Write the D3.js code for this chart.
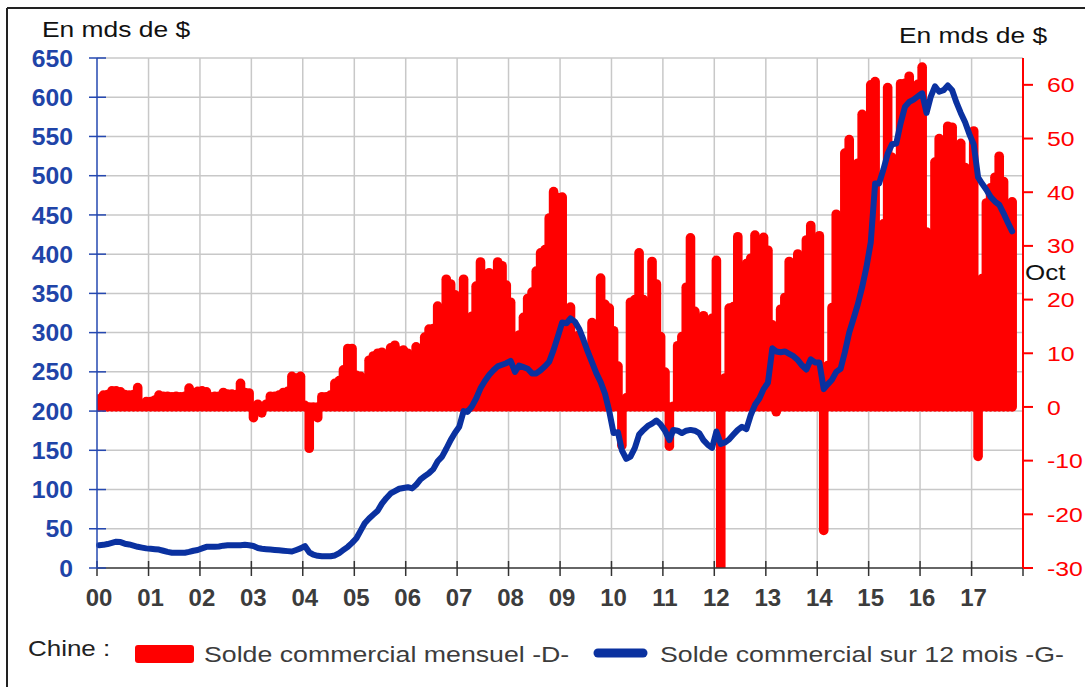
<!DOCTYPE html>
<html>
<head>
<meta charset="utf-8">
<script src="https://cdn.jsdelivr.net/npm/d3@7"></script>
<style>
    body { margin: 0; background: #fff; }
    svg { display: block; font-family: "Liberation Sans", Arial, sans-serif; }
</style>
</head>
<body>
<div id="chart"></div>
<script>

// Chine : solde commercial, en mds de $ (janv. 2000 -> oct. 2017)
const yearLabels = ["00", "01", "02", "03", "04", "05", "06", "07", "08", "09",
    "10", "11", "12", "13", "14", "15", "16", "17"];
const leftTicks = [0, 50, 100, 150, 200, 250, 300, 350, 400, 450, 500, 550, 600, 650];
const rightTicks = [-30, -20, -10, 0, 10, 20, 30, 40, 50, 60];

// solde mensuel (axe de droite)
const soldeMensuel = [
    1.5, 2.2, 2.3, 3.0, 3.0, 2.8, 2.3, 2.2, 2.3, 3.6, 0.5, 1.0,
    1.0, 1.3, 2.2, 2.0, 2.0, 1.9, 2.0, 1.9, 2.0, 3.5, 2.7, 2.9,
    3.0, 2.8, 1.9, 2.0, 2.0, 2.7, 2.4, 2.4, 2.3, 4.4, 2.7, 2.6,
    -2.0, 0.5, -1.1, 0.5, 2.0, 2.0, 2.2, 2.7, 2.9, 5.7, 5.4, 5.7,
    0.3, -7.7, -0.3, -2.0, 1.9, 1.9, 2.2, 4.4, 4.9, 6.9, 10.9, 10.9,
    5.9, 5.7, 5.0, 8.7, 9.5, 10.0, 10.2, 9.4, 11.0, 11.5, 10.4, 10.6,
    10.0, 2.5, 11.2, 10.5, 13.0, 14.5, 14.6, 18.8, 15.3, 23.8, 22.9, 20.9,
    15.9, 23.8, 6.9, 16.9, 22.5, 27.0, 24.4, 25.0, 23.9, 27.0, 26.3, 22.7,
    19.5, 8.6, 13.4, 16.7, 20.2, 21.4, 25.3, 28.7, 29.3, 35.2, 40.1, 39.0,
    39.1, 4.8, 18.6, 13.1, 13.4, 8.3, 10.6, 15.7, 12.9, 24.0, 19.1, 18.4,
    14.2, 7.6, -7.2, 1.7, 19.5, 20.0, 28.7, 20.0, 16.9, 27.1, 22.9, 13.1,
    6.5, -7.3, 0.1, 11.4, 13.1, 22.3, 31.5, 17.8, 14.5, 17.0, 14.5, 16.5,
    27.3, -31.5, 5.4, 18.4, 18.7, 31.7, 25.1, 26.7, 27.7, 32.0, 19.6, 31.6,
    29.2, 15.3, -0.9, 18.2, 20.4, 27.1, 17.8, 28.5, 15.2, 31.1, 33.8, 25.6,
    31.9, -23.0, 7.7, 18.5, 35.9, 31.6, 47.3, 49.8, 31.0, 45.4, 54.5, 49.6,
    60.0, 60.6, 3.1, 34.1, 59.5, 46.5, 43.0, 60.2, 60.3, 61.6, 54.1, 60.1,
    63.3, 32.6, 29.9, 45.6, 50.0, 48.1, 52.3, 52.1, 42.0, 49.1, 44.6, 40.8,
    51.4, -9.2, 23.9, 38.0, 40.8, 42.8, 46.7, 42.0, 28.5, 38.2
];

// solde cumule sur 12 mois (axe de gauche)
const solde12Mois = [
    29, 29.5, 30.5, 32, 33.5, 33, 31, 30, 28.5, 27, 26, 25,
    24.5, 24, 23.5, 22, 20.5, 19.5, 19.5, 19.5, 19.5, 20.5, 22, 23,
    25, 27, 27, 27, 27.5, 28.5, 29, 29, 29, 29, 29.5, 29,
    28, 25.5, 24.5, 24, 23.5, 23, 22.5, 22, 21.5, 21, 23, 25,
    28, 20, 17, 15.5, 15, 15, 15, 16, 19, 23, 27, 32,
    38, 48, 57, 63, 68, 73, 82, 89, 95, 98, 101, 102,
    103, 101.5, 106, 113, 117, 121, 126, 136, 142, 152, 163, 172,
    180, 200, 199, 206, 216, 229, 238, 246, 252, 257, 259, 261,
    264, 250, 258, 256, 254, 248, 248, 252, 257, 263, 278, 295,
    313, 312, 318, 314, 305, 291, 276, 262, 248, 237, 222, 200,
    172, 173, 150, 139, 142, 153, 170, 176, 181, 184, 188, 183,
    175, 163, 176, 175, 172, 175, 176, 175, 172, 163, 157, 153,
    174, 158, 160, 164, 170, 176, 180, 177, 195, 208, 216, 228,
    236, 280, 276, 275, 276, 273, 270, 265, 258, 253, 266, 262,
    262, 228, 234, 240, 250, 254, 275, 300, 318, 336, 358, 383,
    415, 490, 490, 508, 528, 540, 541, 567, 588, 594, 597, 601,
    605, 580, 600, 614, 607, 609, 615, 609, 593, 580, 568, 553,
    540, 498, 490, 482, 473, 467, 463, 452, 440, 429
];

const legendLabels = ["Solde commercial mensuel -D-", "Solde commercial sur 12 mois -G-"];

const width = 1085;
const height = 687;
const plot = {left: 97, right: 1023, top: 58, bottom: 568};

const red = "#ff0000";
const blue = "#0a31a0";
const axisBlue = "#2548b0";
const grey = "#c8c8c8";
const textGrey = "#3c3c3c";
const stretch = 1.18;   // le texte de l'original est etire horizontalement

const svg = d3.select("#chart").append("svg")
    .attr("width", width)
    .attr("height", height);

svg.append("rect").attr("width", width).attr("height", height).attr("fill", "#fff");

const x = d3.scaleTime()
    .domain([new Date(2000, 0, 1), new Date(2018, 0, 1)])
    .range([plot.left, plot.right]);
const yLeft = d3.scaleLinear().domain([0, 650]).range([plot.bottom, plot.top]);
const yRight = d3.scaleLinear().domain([-30, 65]).range([plot.bottom, plot.top]);

const months = soldeMensuel.map(function(d, i) { return new Date(2000, i, 16); });
const yearDates = d3.range(2000, 2019).map(function(y) { return new Date(y, 0, 1); });

function addText(g, px, py, txt, opts) {
    let t = g.append("text")
        .attr("transform", "translate(" + px + "," + py + ") scale(" + (opts.sx || 1) + ",1)")
        .attr("text-anchor", opts.anchor || "start")
        .attr("font-size", opts.size)
        .attr("font-weight", opts.weight || "normal")
        .attr("fill", opts.fill)
        .text(txt);
    if (opts.dy) t.attr("dy", opts.dy);
    return t;
}

// grille
const grid = svg.append("g");
grid.selectAll("line.h")
    .data(leftTicks.filter(function(d) { return d > 0; }))
    .enter().append("line")
    .attr("x1", plot.left).attr("x2", plot.right)
    .attr("y1", function(d) { return yLeft(d); })
    .attr("y2", function(d) { return yLeft(d); })
    .attr("stroke", grey).attr("stroke-width", 1.5);
grid.selectAll("line.v")
    .data(yearDates.slice(1, 18))
    .enter().append("line")
    .attr("x1", function(d) { return x(d); })
    .attr("x2", function(d) { return x(d); })
    .attr("y1", plot.top).attr("y2", plot.bottom)
    .attr("stroke", grey).attr("stroke-width", 1.5);

// barres mensuelles (traits larges, bouts arrondis, qui se chevauchent)
svg.append("clipPath").attr("id", "clip")
    .append("rect")
    .attr("x", plot.left).attr("y", plot.top)
    .attr("width", plot.right - plot.left).attr("height", plot.bottom - plot.top);

svg.append("g")
    .attr("clip-path", "url(#clip)")
    .selectAll("line")
    .data(soldeMensuel)
    .enter().append("line")
    .attr("x1", function(d, i) { return x(months[i]); })
    .attr("x2", function(d, i) { return x(months[i]); })
    .attr("y1", yRight(0))
    .attr("y2", function(d) { return yRight(d); })
    .attr("stroke", red)
    .attr("stroke-width", 9.6)
    .attr("stroke-linecap", "round");

// courbe 12 mois
const line = d3.line()
    .x(function(d, i) { return x(months[i]); })
    .y(function(d) { return yLeft(d); });

svg.append("path")
    .datum(solde12Mois)
    .attr("d", line)
    .attr("fill", "none")
    .attr("stroke", blue)
    .attr("stroke-width", 6)
    .attr("stroke-linejoin", "round")
    .attr("stroke-linecap", "round");

// axe des x
const xAxis = svg.append("g");
xAxis.append("line")
    .attr("x1", plot.left).attr("x2", plot.right)
    .attr("y1", plot.bottom).attr("y2", plot.bottom)
    .attr("stroke", "#333").attr("stroke-width", 1.5);
xAxis.selectAll("line.tick")
    .data(yearDates)
    .enter().append("line")
    .attr("x1", function(d) { return x(d); })
    .attr("x2", function(d) { return x(d); })
    .attr("y1", plot.bottom - 7).attr("y2", plot.bottom + 8)
    .attr("stroke", "#333").attr("stroke-width", 1.5);
yearLabels.forEach(function(lab, i) {
    addText(xAxis, x(yearDates[i]) + 2, 606, lab,
        {anchor: "middle", size: 24, weight: "bold", fill: textGrey});
});

// axe de gauche
const leftAxis = svg.append("g");
leftAxis.append("line")
    .attr("x1", plot.left).attr("x2", plot.left)
    .attr("y1", plot.top).attr("y2", plot.bottom)
    .attr("stroke", axisBlue).attr("stroke-width", 1.5);
leftAxis.selectAll("line.tick")
    .data(leftTicks)
    .enter().append("line")
    .attr("x1", plot.left - 8).attr("x2", plot.left + 9)
    .attr("y1", function(d) { return yLeft(d); })
    .attr("y2", function(d) { return yLeft(d); })
    .attr("stroke", axisBlue).attr("stroke-width", 1.5);
leftTicks.forEach(function(t) {
    addText(leftAxis, 73, yLeft(t), t,
        {anchor: "end", size: 24, weight: "bold", fill: "#1f44a8", dy: "0.36em", sx: 1.03});
});

// axe de droite
const rightAxis = svg.append("g");
rightAxis.append("line")
    .attr("x1", plot.right).attr("x2", plot.right)
    .attr("y1", plot.top).attr("y2", plot.bottom)
    .attr("stroke", red).attr("stroke-width", 2);
rightAxis.selectAll("line.tick")
    .data(rightTicks)
    .enter().append("line")
    .attr("x1", plot.right).attr("x2", plot.right + 10)
    .attr("y1", function(d) { return yRight(d); })
    .attr("y2", function(d) { return yRight(d); })
    .attr("stroke", red).attr("stroke-width", 2);
rightTicks.forEach(function(t) {
    addText(rightAxis, 1047, yRight(t), t,
        {size: 21, fill: red, dy: "0.36em", sx: stretch});
});

// titres d'axes
addText(svg, 42, 37, "En mds de $", {size: 22, fill: "#111", sx: 1.2});
addText(svg, 899, 43, "En mds de $", {size: 22, fill: "#111", sx: 1.2});
addText(svg, 1025, yRight(25) + 7.5, "Oct", {size: 22, fill: "#111", sx: stretch});

// legende
const legend = svg.append("g");
addText(legend, 28, 656, "Chine :", {size: 22, fill: "#222", sx: stretch});
legend.append("rect")
    .attr("x", 135).attr("y", 645)
    .attr("width", 59).attr("height", 18)
    .attr("rx", 3)
    .attr("fill", red);
addText(legend, 204, 662, legendLabels[0], {size: 22, fill: textGrey, sx: 1.215});
legend.append("line")
    .attr("x1", 598).attr("x2", 643)
    .attr("y1", 653).attr("y2", 653)
    .attr("stroke", blue).attr("stroke-width", 9)
    .attr("stroke-linecap", "round");
addText(legend, 660, 662, legendLabels[1], {size: 22, fill: textGrey, sx: 1.215});

// cadre
svg.append("line").attr("x1", 7).attr("x2", width).attr("y1", 8).attr("y2", 8)
    .attr("stroke", "#222").attr("stroke-width", 2);
svg.append("line").attr("x1", 7).attr("x2", 7).attr("y1", 8).attr("y2", height)
    .attr("stroke", "#222").attr("stroke-width", 2);

</script>
</body>
</html>
